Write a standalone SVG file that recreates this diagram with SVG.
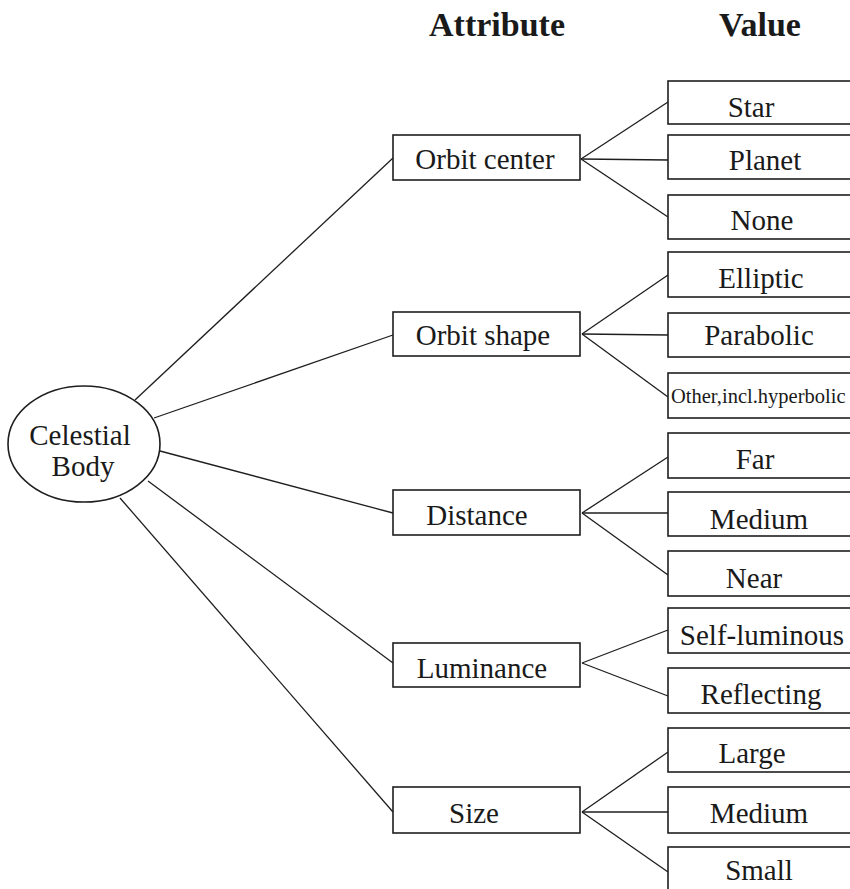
<svg xmlns="http://www.w3.org/2000/svg" width="850" height="889" viewBox="0 0 850 889">
  <style>
    .bg { fill: #ffffff; }
    .box { fill: #ffffff; stroke: #1e1e1e; stroke-width: 1.6; }
    .link { fill: none; stroke: #1e1e1e; stroke-width: 1.3; }
    text { font-family: "Liberation Serif", "Times New Roman", serif; fill: #1a1a1a; }
    .lbl { font-size: 29px; text-anchor: middle; }
    .hdr { font-size: 34px; font-weight: bold; text-anchor: middle; }
  </style>
  <rect class="bg" x="0" y="0" width="850" height="889"/>

  <!-- column headings -->
  <g id="headings">
    <text class="hdr" x="497" y="36">Attribute</text>
    <text class="hdr" x="760" y="36">Value</text>
  </g>

  <!-- connectors -->
  <g id="connectors">
    <!-- root to attributes -->
    <line class="link" x1="135" y1="400" x2="393" y2="158"/>
    <line class="link" x1="154" y1="418" x2="393" y2="335"/>
    <line class="link" x1="160" y1="451" x2="393" y2="513"/>
    <line class="link" x1="148" y1="481" x2="393" y2="663"/>
    <line class="link" x1="120" y1="498" x2="393" y2="812"/>
    <!-- orbit center values -->
    <line class="link" x1="581" y1="159" x2="668" y2="102"/>
    <line class="link" x1="581" y1="159" x2="668" y2="160"/>
    <line class="link" x1="581" y1="159" x2="668" y2="217"/>
    <!-- orbit shape values -->
    <line class="link" x1="582" y1="334" x2="668" y2="275"/>
    <line class="link" x1="582" y1="334" x2="668" y2="335"/>
    <line class="link" x1="582" y1="334" x2="668" y2="397"/>
    <!-- distance values -->
    <line class="link" x1="582" y1="513" x2="668" y2="457"/>
    <line class="link" x1="582" y1="513" x2="668" y2="513"/>
    <line class="link" x1="582" y1="513" x2="668" y2="575"/>
    <!-- luminance values -->
    <line class="link" x1="582" y1="663" x2="668" y2="630"/>
    <line class="link" x1="582" y1="663" x2="668" y2="696"/>
    <!-- size values -->
    <line class="link" x1="582" y1="812" x2="668" y2="752"/>
    <line class="link" x1="582" y1="812" x2="668" y2="812"/>
    <line class="link" x1="582" y1="812" x2="668" y2="872"/>
  </g>

  <!-- root -->
  <g id="celestial-body">
    <ellipse class="box" cx="84" cy="444" rx="76" ry="58"/>
    <text class="lbl" x="80" y="445" font-size="30">Celestial</text>
    <text class="lbl" x="83" y="476" font-size="30">Body</text>
  </g>

  <!-- attributes -->
  <g id="attr-orbit-center">
    <rect class="box" x="393" y="135" width="187" height="45"/>
    <text class="lbl" x="485" y="169">Orbit center</text>
  </g>
  <g id="attr-orbit-shape">
    <rect class="box" x="393" y="312" width="187" height="44"/>
    <text class="lbl" x="483" y="345">Orbit shape</text>
  </g>
  <g id="attr-distance">
    <rect class="box" x="393" y="490" width="187" height="45"/>
    <text class="lbl" x="477" y="525">Distance</text>
  </g>
  <g id="attr-luminance">
    <rect class="box" x="393" y="643" width="187" height="44"/>
    <text class="lbl" x="482" y="678">Luminance</text>
  </g>
  <g id="attr-size">
    <rect class="box" x="393" y="787" width="187" height="46"/>
    <text class="lbl" x="474" y="823">Size</text>
  </g>

  <!-- values -->
  <g id="val-star">
    <rect class="box" x="668" y="81" width="200" height="43"/>
    <text class="lbl" x="751" y="117">Star</text>
  </g>
  <g id="val-planet">
    <rect class="box" x="668" y="135" width="200" height="44"/>
    <text class="lbl" x="765" y="170">Planet</text>
  </g>
  <g id="val-none">
    <rect class="box" x="668" y="195" width="200" height="44"/>
    <text class="lbl" x="762" y="230">None</text>
  </g>
  <g id="val-elliptic">
    <rect class="box" x="668" y="252" width="200" height="45"/>
    <text class="lbl" x="761" y="288">Elliptic</text>
  </g>
  <g id="val-parabolic">
    <rect class="box" x="668" y="313" width="200" height="44"/>
    <text class="lbl" x="759" y="345">Parabolic</text>
  </g>
  <g id="val-other">
    <rect class="box" x="668" y="373" width="200" height="45"/>
    <text x="671" y="403" font-size="20.5">Other,incl.hyperbolic</text>
  </g>
  <g id="val-far">
    <rect class="box" x="668" y="433" width="200" height="45"/>
    <text class="lbl" x="755" y="469">Far</text>
  </g>
  <g id="val-medium-distance">
    <rect class="box" x="668" y="492" width="200" height="44"/>
    <text class="lbl" x="759" y="529">Medium</text>
  </g>
  <g id="val-near">
    <rect class="box" x="668" y="551" width="200" height="45"/>
    <text class="lbl" x="754" y="588">Near</text>
  </g>
  <g id="val-self-luminous">
    <rect class="box" x="668" y="608" width="200" height="45"/>
    <text class="lbl" x="762" y="645">Self-luminous</text>
  </g>
  <g id="val-reflecting">
    <rect class="box" x="668" y="668" width="200" height="45"/>
    <text class="lbl" x="761" y="704">Reflecting</text>
  </g>
  <g id="val-large">
    <rect class="box" x="668" y="728" width="200" height="44"/>
    <text class="lbl" x="752" y="763">Large</text>
  </g>
  <g id="val-medium-size">
    <rect class="box" x="668" y="787" width="200" height="46"/>
    <text class="lbl" x="759" y="823">Medium</text>
  </g>
  <g id="val-small">
    <rect class="box" x="668" y="847" width="200" height="50"/>
    <text class="lbl" x="759" y="880">Small</text>
  </g>
</svg>
